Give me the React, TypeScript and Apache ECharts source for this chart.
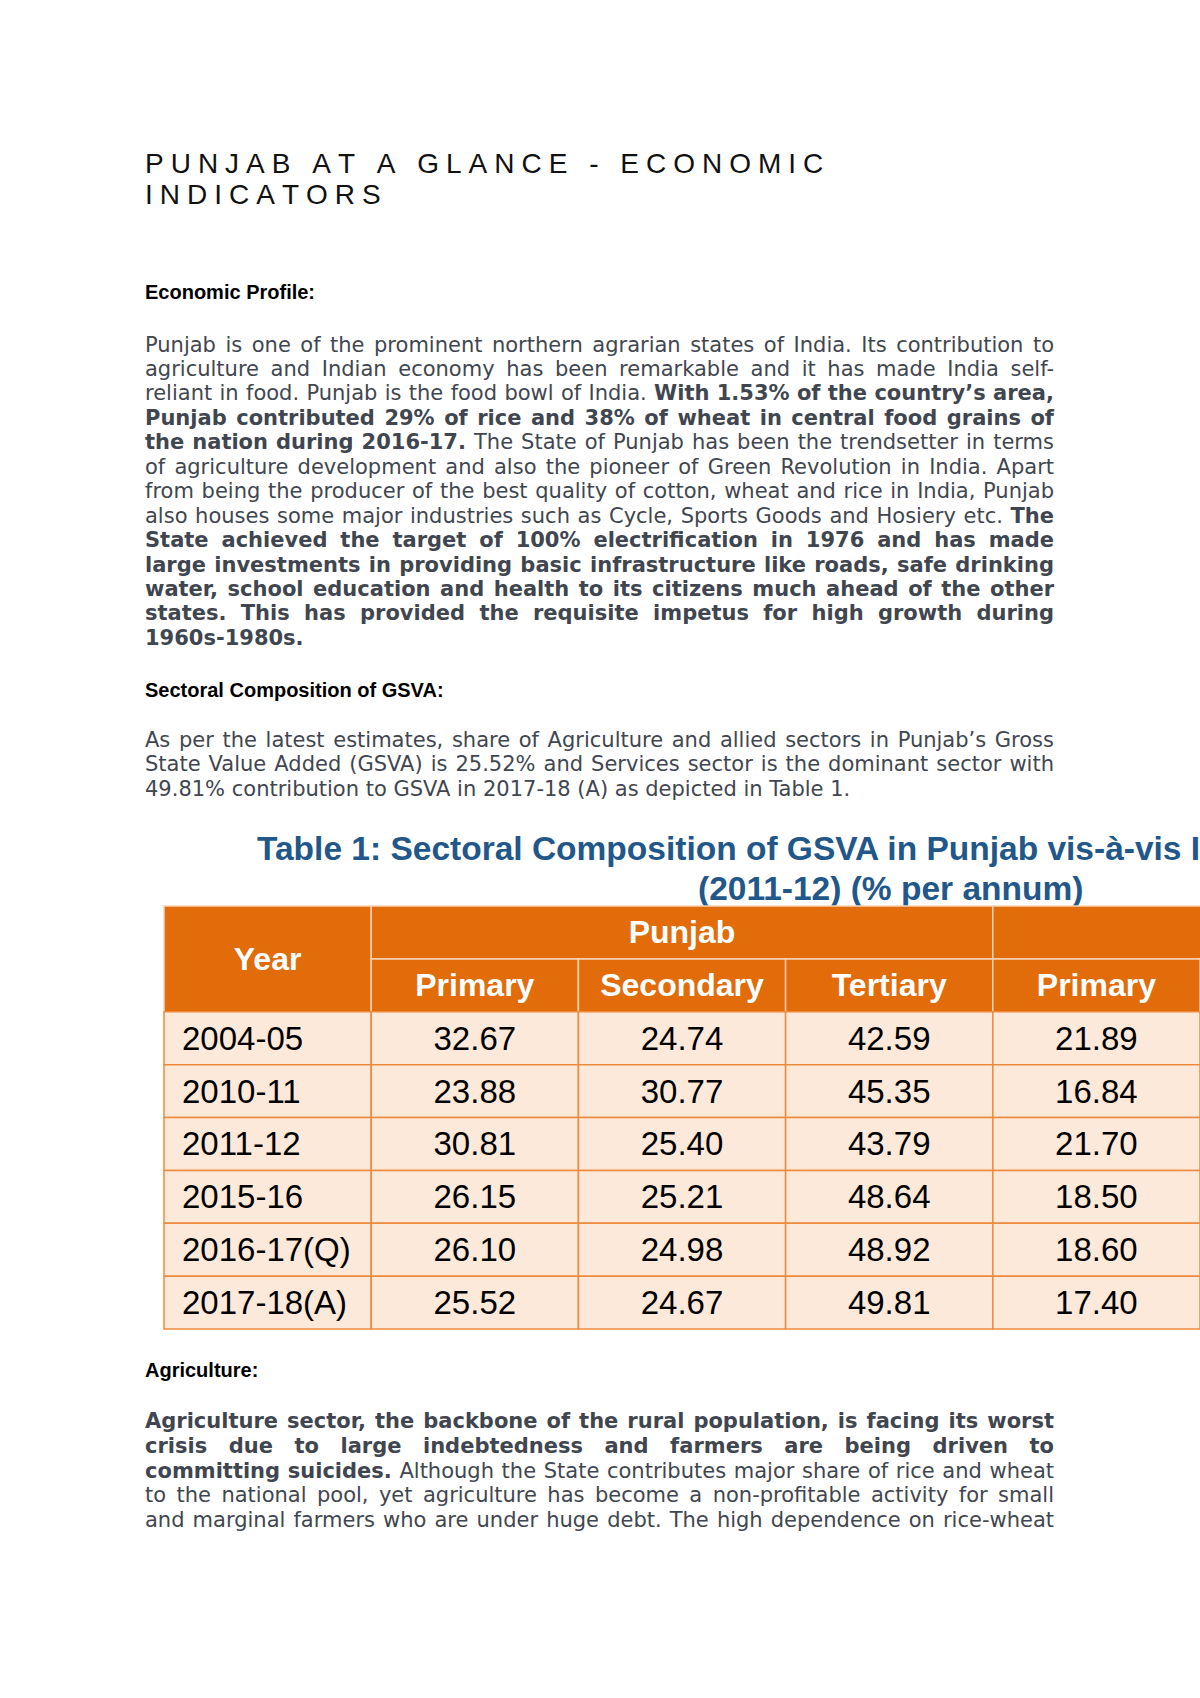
import React, { useEffect, useRef } from "react";
import * as echarts from "echarts";

// ---------- DATA ----------
const years = ["2004-05", "2010-11", "2011-12", "2015-16", "2016-17(Q)", "2017-18(A)"];
const punjabPrimary = [32.67, 23.88, 30.81, 26.15, 26.1, 25.52];
const punjabSecondary = [24.74, 30.77, 25.4, 25.21, 24.98, 24.67];
const punjabTertiary = [42.59, 45.35, 43.79, 48.64, 48.92, 49.81];
const indiaPrimary = [21.89, 16.84, 21.7, 18.5, 18.6, 17.4];
const subHeaders = ["Primary", "Secondary", "Tertiary", "Primary"];
const groupHeader = "Punjab";
const yearHeader = "Year";

const titleLines = ["PUNJAB AT A GLANCE - ECONOMIC", "INDICATORS"];
const tableTitleLines = ["Table 1: Sectoral Composition of GSVA in Punjab vis-à-vis India", "(2011-12) (% per annum)"];
const headings = ["Economic Profile:", "Sectoral Composition of GSVA:", "Agriculture:"];

type Seg = [string, boolean];
const para1: Seg[][] = [
  [["Punjab is one of the prominent northern agrarian states of India. Its contribution to", false]],
  [["agriculture and Indian economy has been remarkable and it has made India self-", false]],
  [["reliant in food. Punjab is the food bowl of India.", false], ["With 1.53% of the country’s area,", true]],
  [["Punjab contributed 29% of rice and 38% of wheat in central food grains of", true]],
  [["the nation during 2016-17.", true], ["The State of Punjab has been the trendsetter in terms", false]],
  [["of agriculture development and also the pioneer of Green Revolution in India. Apart", false]],
  [["from being the producer of the best quality of cotton, wheat and rice in India, Punjab", false]],
  [["also houses some major industries such as Cycle, Sports Goods and Hosiery etc.", false], ["The", true]],
  [["State achieved the target of 100% electrification in 1976 and has made", true]],
  [["large investments in providing basic infrastructure like roads, safe drinking", true]],
  [["water, school education and health to its citizens much ahead of the other", true]],
  [["states. This has provided the requisite impetus for high growth during", true]],
  [["1960s-1980s.", true]],
];
const para2: Seg[][] = [
  [["As per the latest estimates, share of Agriculture and allied sectors in Punjab’s Gross", false]],
  [["State Value Added (GSVA) is 25.52% and Services sector is the dominant sector with", false]],
  [["49.81% contribution to GSVA in 2017-18 (A) as depicted in Table 1.", false]],
];
const para3: Seg[][] = [
  [["Agriculture sector, the backbone of the rural population, is facing its worst", true]],
  [["crisis due to large indebtedness and farmers are being driven to", true]],
  [["committing suicides.", true], ["Although the State contributes major share of rice and wheat", false]],
  [["to the national pool, yet agriculture has become a non-profitable activity for small", false]],
  [["and marginal farmers who are under huge debt. The high dependence on rice-wheat", false]],
];

// ---------- STYLE ----------
const BODY_FONT = '"DejaVu Sans"';
const ARIAL = '"Liberation Sans", Arial, sans-serif';
const BODY_SIZE = 21;
const BODY_COLOR = "#3f4650";
const LEFT = 145;
const RIGHT = 1054;

let ctx: CanvasRenderingContext2D | null = null;
function measure(text: string, font: string): number {
  if (!ctx) ctx = document.createElement("canvas").getContext("2d");
  ctx!.font = font;
  return ctx!.measureText(text).width;
}

function bodyFont(bold: boolean) {
  return `${bold ? "bold " : ""}${BODY_SIZE}px ${BODY_FONT}`;
}

function layoutParagraph(lines: Seg[][], y0: number, step: number, justifyLast: boolean, out: any[]) {
  lines.forEach((line, li) => {
    const words: { t: string; b: boolean; w: number }[] = [];
    line.forEach(([txt, b]) => {
      txt.split(" ").filter((s) => s.length).forEach((t) => words.push({ t, b, w: measure(t, bodyFont(b)) }));
    });
    const justify = justifyLast || li < lines.length - 1;
    const total = words.reduce((s, w) => s + w.w, 0);
    const gapJ = words.length > 1 ? (RIGHT - LEFT - total) / (words.length - 1) : 0;
    let x = LEFT;
    const y = y0 + li * step;
    words.forEach((w) => {
      out.push({
        type: "text",
        x,
        y,
        silent: true,
        style: {
          text: w.t,
          fill: BODY_COLOR,
          fontFamily: BODY_FONT,
          fontSize: BODY_SIZE,
          fontWeight: w.b ? "bold" : "normal",
          align: "left",
          verticalAlign: "middle",
          textAlign: "left",
          textVerticalAlign: "middle",
        },
      });
      x += w.w + (justify ? gapJ : measure(" ", bodyFont(w.b)));
    });
  });
}

function letterSpaced(text: string, x0: number, y: number, size: number, spacing: number, out: any[]) {
  let x = x0;
  const font = `${size}px "Liberation Sans"`;
  for (const ch of text) {
    if (ch !== " ") {
      out.push({
        type: "text",
        x,
        y,
        silent: true,
        style: {
          text: ch,
          fill: "#111111",
          fontFamily: ARIAL,
          fontSize: size,
          align: "left",
          verticalAlign: "middle",
          textAlign: "left",
          textVerticalAlign: "middle",
        },
      });
    }
    x += measure(ch, font) + spacing;
  }
}

type Cell = { c0: number; r0: number; c1: number; r1: number; text: string; kind: string };

function buildCells(): Cell[] {
  const cells: Cell[] = [];
  cells.push({ c0: 0, r0: 0, c1: 1, r1: 2, text: yearHeader, kind: "head" });
  cells.push({ c0: 1, r0: 0, c1: 4, r1: 1, text: groupHeader, kind: "head" });
  cells.push({ c0: 4, r0: 0, c1: 7, r1: 1, text: "", kind: "head" });
  subHeaders.forEach((h, i) => cells.push({ c0: 1 + i, r0: 1, c1: 2 + i, r1: 2, text: h, kind: "head" }));
  const cols = [punjabPrimary, punjabSecondary, punjabTertiary, indiaPrimary];
  years.forEach((yr, i) => {
    cells.push({ c0: 0, r0: 2 + i, c1: 1, r1: 3 + i, text: yr, kind: "year" });
    cols.forEach((arr, j) =>
      cells.push({ c0: 1 + j, r0: 2 + i, c1: 2 + j, r1: 3 + i, text: arr[i].toFixed(2), kind: "num" })
    );
  });
  return cells;
}

export default function App() {
  const ref = useRef<HTMLDivElement>(null);
  useEffect(() => {
    if (!ref.current) return;
    const chart = echarts.init(ref.current, null, { renderer: "svg" });
    const g: any[] = [];

    letterSpaced(titleLines[0], LEFT, 163, 28, 7, g);
    letterSpaced(titleLines[1], LEFT, 194, 28, 7, g);

    const headingY = [292, 690, 1370];
    headings.forEach((h, i) =>
      g.push({
        type: "text",
        x: LEFT,
        y: headingY[i],
        silent: true,
        style: {
          text: h,
          fill: "#000000",
          fontFamily: ARIAL,
          fontSize: 20,
          fontWeight: "bold",
          align: "left",
          verticalAlign: "middle",
          textAlign: "left",
          textVerticalAlign: "middle",
        },
      })
    );

    layoutParagraph(para1, 344.5, 24.45, false, g);
    layoutParagraph(para2, 740, 24.45, false, g);
    layoutParagraph(para3, 1421, 24.8, true, g);

    const ttX = [257, 698];
    const ttY = [848, 888];
    tableTitleLines.forEach((t, i) =>
      g.push({
        type: "text",
        x: ttX[i],
        y: ttY[i],
        silent: true,
        style: {
          text: t,
          fill: "#22578a",
          fontFamily: ARIAL,
          fontSize: 33.5,
          fontWeight: "bold",
          align: "left",
          verticalAlign: "middle",
          textAlign: "left",
          textVerticalAlign: "middle",
        },
      })
    );

    const cells = buildCells();

    chart.setOption({
      animation: false,
      backgroundColor: "#ffffff",
      grid: { left: 164, top: 906, width: 1036.5, height: 423, containLabel: false },
      xAxis: { type: "value", min: 0, max: 5, show: false },
      yAxis: { type: "value", min: 0, max: 8, inverse: true, show: false },
      graphic: { elements: g },
      series: [
        {
          type: "custom",
          coordinateSystem: "cartesian2d",
          clip: false,
          silent: true,
          encode: { x: [0, 2], y: [1, 3] },
          data: cells.map((c) => [c.c0, c.r0, c.c1, c.r1]),
          renderItem: (params: any, api: any) => {
            const c = cells[params.dataIndex];
            const p0 = api.coord([api.value(0), api.value(1)]);
            const p1 = api.coord([api.value(2), api.value(3)]);
            const x = p0[0];
            const y = p0[1];
            const w = p1[0] - p0[0];
            const h = p1[1] - p0[1];
            const isHead = c.kind === "head";
            const children: any[] = [
              {
                type: "rect",
                shape: { x, y, width: w, height: h },
                style: {
                  fill: isHead ? "#e26b0a" : "#fde9d9",
                  stroke: isHead ? "#f7d3b6" : "#ee8a3c",
                  lineWidth: 1.5,
                },
              },
            ];
            if (c.text) {
              children.push({
                type: "text",
                x: c.kind === "year" ? x + 18 : x + w / 2,
                y: y + h / 2,
                style: {
                  text: c.text,
                  fill: isHead ? "#ffffff" : "#000000",
                  fontFamily: ARIAL,
                  fontSize: isHead ? 32 : 33,
                  fontWeight: isHead ? "bold" : "normal",
                  align: c.kind === "year" ? "left" : "center",
                  verticalAlign: "middle",
                  textAlign: c.kind === "year" ? "left" : "center",
                  textVerticalAlign: "middle",
                },
              });
            }
            return { type: "group", children };
          },
          z: 1,
        },
      ],
    });
    return () => chart.dispose();
  }, []);
  return (
    <div
      ref={ref}
      style={{ position: "absolute", left: 0, top: 0, width: 1200, height: 1698, background: "#ffffff" }}
    />
  );
}
